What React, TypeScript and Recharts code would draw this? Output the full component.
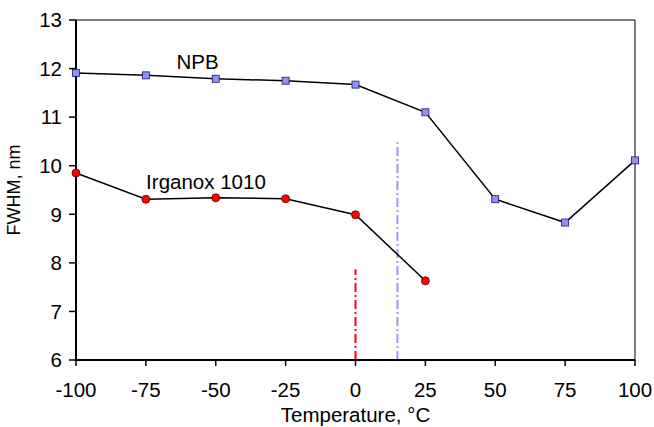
import React from 'react';
import { LineChart, Line, XAxis, YAxis, ReferenceLine, ReferenceDot, Label } from 'recharts';

const temperatures = [-100, -75, -50, -25, 0, 25, 50, 75, 100];
const npbValues = [11.91, 11.86, 11.79, 11.75, 11.67, 11.1, 9.31, 8.83, 10.11];
const irgTemps = [-100, -75, -50, -25, 0, 25];
const irgValues = [9.85, 9.31, 9.34, 9.32, 8.99, 7.63];
const xTicks = [-100, -75, -50, -25, 0, 25, 50, 75, 100];
const yTicks = [6, 7, 8, 9, 10, 11, 12, 13];

const npbData = temperatures.map((t, i) => ({ t, v: npbValues[i] }));
const irgData = irgTemps.map((t, i) => ({ t, v: irgValues[i] }));

const FONT = '"Liberation Sans", Arial, Helvetica, sans-serif';
const FS = 20.5;

const SquareDot = (props: any) => {
  const { cx, cy } = props;
  if (cx == null || cy == null) return null;
  return <rect x={cx - 3.5} y={cy - 3.5} width={7} height={7} fill="#8f8fff" stroke="#1a1a55" strokeWidth={0.8} />;
};
const CircleDot = (props: any) => {
  const { cx, cy } = props;
  if (cx == null || cy == null) return null;
  return <circle cx={cx} cy={cy} r={4} fill="#ff0000" stroke="#550000" strokeWidth={0.8} />;
};

export default function App() {
  return (
    <div style={{ position: 'absolute', left: 0, top: 0, width: 654, height: 427, background: '#fff', fontFamily: FONT }}>
      <LineChart width={654} height={427} margin={{ top: 20, right: 19, bottom: 27, left: 0 }}>
        <XAxis
          dataKey="t"
          type="number"
          domain={[-100, 100]}
          ticks={xTicks}
          allowDuplicatedCategory={false}
          axisLine={{ stroke: '#000', strokeWidth: 2 }}
          tickLine={{ stroke: '#000', strokeWidth: 1.5 }}
          tickSize={6}
          tickMargin={16}
          tick={{ fill: '#000', fontSize: FS, fontFamily: FONT }}
          height={40}
        >
          <Label
            content={(p: any) => {
              const vb = p.viewBox;
              return (
                <text x={vb.x + vb.width / 2} y={vb.y + 62} textAnchor="middle" fontSize={FS} fontFamily={FONT} fill="#000">
                  Temperature, °C
                </text>
              );
            }}
          />
        </XAxis>
        <YAxis
          type="number"
          domain={[6, 13]}
          ticks={yTicks}
          width={76}
          axisLine={{ stroke: '#000', strokeWidth: 2 }}
          tickLine={{ stroke: '#000', strokeWidth: 1.5 }}
          tickSize={7}
          tickMargin={7}
          tick={{ fill: '#000', fontSize: FS, fontFamily: FONT }}
        >
          <Label
            content={(p: any) => {
              const vb = p.viewBox;
              const x = vb.x + 20;
              const y = vb.y + vb.height / 2;
              return (
                <text x={x} y={y} transform={`rotate(-90 ${x} ${y})`} textAnchor="middle" fontSize={18} fontFamily={FONT} fill="#000">
                  FWHM, nm
                </text>
              );
            }}
          />
        </YAxis>
        <ReferenceLine y={13} stroke="#000" strokeWidth={1} />
        <ReferenceLine x={100} stroke="#000" strokeWidth={1} />
        <ReferenceLine segment={[{ x: 0, y: 6 }, { x: 0, y: 7.87 }]} stroke="#ff0000" strokeWidth={2} strokeDasharray="9 3 2 3" />
        <ReferenceLine segment={[{ x: 15, y: 6 }, { x: 15, y: 10.52 }]} stroke="#9999ff" strokeWidth={2} strokeDasharray="9 3 2 3" />
        <Line data={npbData} dataKey="v" stroke="#000" strokeWidth={1.5} dot={<SquareDot />} isAnimationActive={false} />
        <Line data={irgData} dataKey="v" stroke="#000" strokeWidth={1.5} dot={<CircleDot />} isAnimationActive={false} />
        <ReferenceDot x={-56.5} y={12.14} r={0} fill="none" stroke="none" label={{ value: 'NPB', position: 'center', fontSize: FS, fill: '#000', fontFamily: FONT }} />
        <ReferenceDot x={-53.5} y={9.67} r={0} fill="none" stroke="none" label={{ value: 'Irganox 1010', position: 'center', fontSize: FS, fill: '#000', fontFamily: FONT }} />
      </LineChart>
    </div>
  );
}
